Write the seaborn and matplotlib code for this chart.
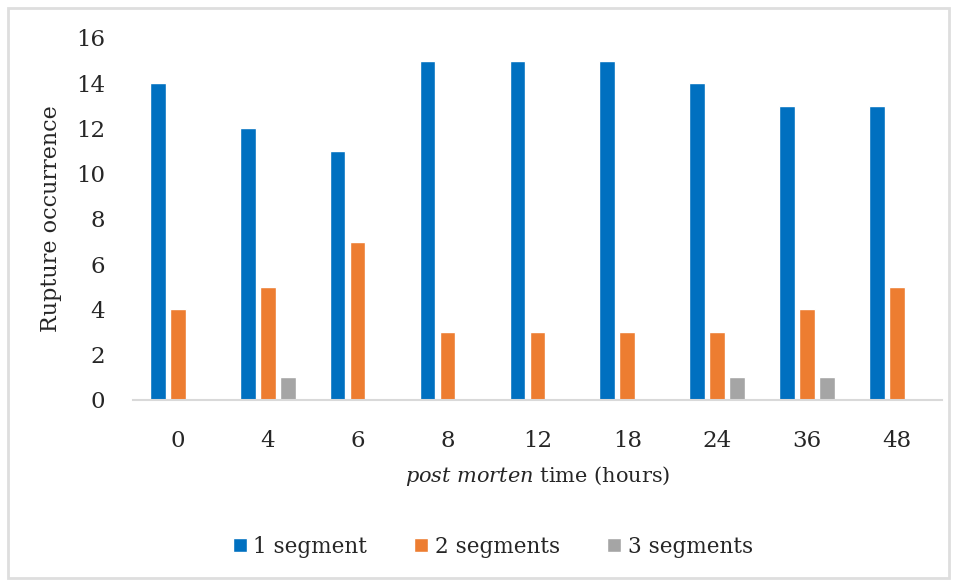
import matplotlib
matplotlib.use("Agg")
import matplotlib.pyplot as plt
import seaborn as sns
import pandas as pd
from matplotlib.patches import Rectangle

# Rupture counts per post-mortem time point
times = ["0", "4", "6", "8", "12", "18", "24", "36", "48"]
one_segment = [14, 12, 11, 15, 15, 15, 14, 13, 13]
two_segments = [4, 5, 7, 3, 3, 3, 3, 4, 5]
three_segments = [0, 1, 0, 0, 0, 0, 1, 1, 0]
series_names = ["1 segment", "2 segments", "3 segments"]
y_ticks = [0, 2, 4, 6, 8, 10, 12, 14, 16]

colors = ["#0070C0", "#ED7D31", "#A5A5A5"]

df = pd.DataFrame({
    "time": times * 3,
    "count": one_segment + two_segments + three_segments,
    "series": [series_names[0]] * len(times)
    + [series_names[1]] * len(times)
    + [series_names[2]] * len(times),
})

sns.set_theme(style="white")
plt.rcParams["font.family"] = ["DejaVu Serif"]
plt.rcParams["mathtext.fontset"] = "custom"
plt.rcParams["mathtext.it"] = "DejaVu Serif:italic"
plt.rcParams["mathtext.rm"] = "DejaVu Serif"

fig = plt.figure(figsize=(9.57, 5.83), dpi=100)
ax = fig.add_axes([0.139, 0.314, 0.845, 0.621])

sns.barplot(data=df, x="time", y="count", hue="series", order=times,
            hue_order=series_names, palette=colors, width=0.667, gap=0.22,
            saturation=1, ax=ax, legend=True)

ax.set_ylim(0, 16)
ax.set_yticks(y_ticks)
ax.set_xlim(-0.5, len(times) - 0.5)
for s in ["top", "right", "left"]:
    ax.spines[s].set_visible(False)
ax.spines["bottom"].set_color("#d9d9d9")
ax.spines["bottom"].set_linewidth(1.5)
ax.tick_params(axis="both", length=0, labelsize=16.5, colors="#262626")
ax.tick_params(axis="x", pad=22)
ax.tick_params(axis="y", pad=20)

ax.set_ylabel("Rupture occurrence", fontsize=16, color="#262626", labelpad=10)
ax.set_xlabel(r"$\it{post\ morten}$ time (hours)", fontsize=15,
              color="#262626", labelpad=8)

handles, labels = ax.get_legend_handles_labels()
ax.legend(handles, labels, loc="center", bbox_to_anchor=(0.515, 0.062),
          bbox_transform=fig.transFigure, ncol=3, frameon=False,
          fontsize=15.5, handlelength=0.65, handleheight=0.65,
          handletextpad=0.3, columnspacing=2.2, labelcolor="#262626")

# Light chart frame around the whole figure
fig.patches.append(Rectangle((8 / 957, 5 / 583), 941 / 957, 570 / 583,
                             transform=fig.transFigure, fill=False,
                             edgecolor="#dedede", linewidth=2))

fig.savefig("out.png", dpi=100)
